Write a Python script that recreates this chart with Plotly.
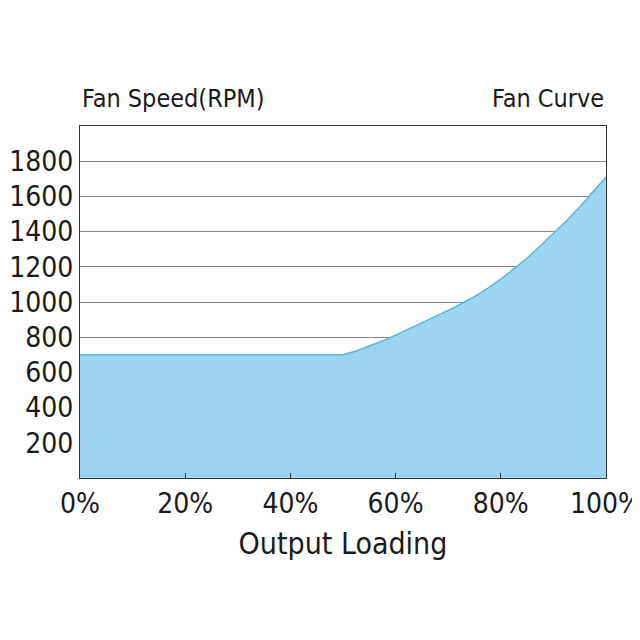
import plotly.graph_objects as go

# output loading (%) vs fan speed (rpm)
loading = [0, 50, 52.5, 55, 57.5, 60, 62.5, 65, 67.5, 70, 72.5, 75, 77.5, 80,
           82.5, 85, 87.5, 90, 92.5, 95, 97.5, 100]
rpm = [700, 700, 722, 748, 778, 812, 846, 880, 915, 952, 990, 1030, 1078, 1130,
       1188, 1250, 1318, 1390, 1462, 1540, 1622, 1710]

ytick_vals = [200, 400, 600, 800, 1000, 1200, 1400, 1600, 1800]
xtick_vals = [0, 20, 40, 60, 80, 100]
xtick_text = ['0%', '20%', '40%', '60%', '80%', '100%']

font_name = 'DejaVu Sans Condensed, Liberation Sans Narrow, Roboto, sans-serif'

fig = go.Figure()
fig.add_trace(go.Scatter(
    x=loading, y=rpm, mode='lines', fill='tozeroy',
    line=dict(color='#5ab4de', width=1.5),
    fillcolor='#9dd5f1', hoverinfo='skip'
))

fig.update_layout(
    width=640, height=640,
    paper_bgcolor='white', plot_bgcolor='white',
    margin=dict(l=72, r=42, t=118, b=170, autoexpand=False),
    showlegend=False,
    font=dict(family=font_name, size=25, color='#1a1a1a'),
    annotations=[
        dict(text='Fan Speed(RPM)', x=0, xref='paper', y=1.03, yref='paper',
             xanchor='left', yanchor='bottom', showarrow=False),
        dict(text='Fan Curve', x=1, xref='paper', y=1.03, yref='paper',
             xanchor='right', yanchor='bottom', showarrow=False),
    ]
)
fig.update_xaxes(
    range=[0, 100], tickvals=xtick_vals, ticktext=xtick_text,
    showgrid=False, showline=True, linecolor='#333', linewidth=1, mirror=True,
    ticks='inside', ticklen=5, tickcolor='#333', automargin=False,
    title=dict(text='Output Loading', standoff=14),
    tickfont=dict(size=28)
)
fig.update_yaxes(
    range=[0, 2000], tickvals=ytick_vals, automargin=False,
    showgrid=True, gridcolor='#888', gridwidth=1,
    showline=True, linecolor='#333', linewidth=1, mirror=True,
    ticks='', tickfont=dict(size=28)
)

fig.write_html("out.html")
